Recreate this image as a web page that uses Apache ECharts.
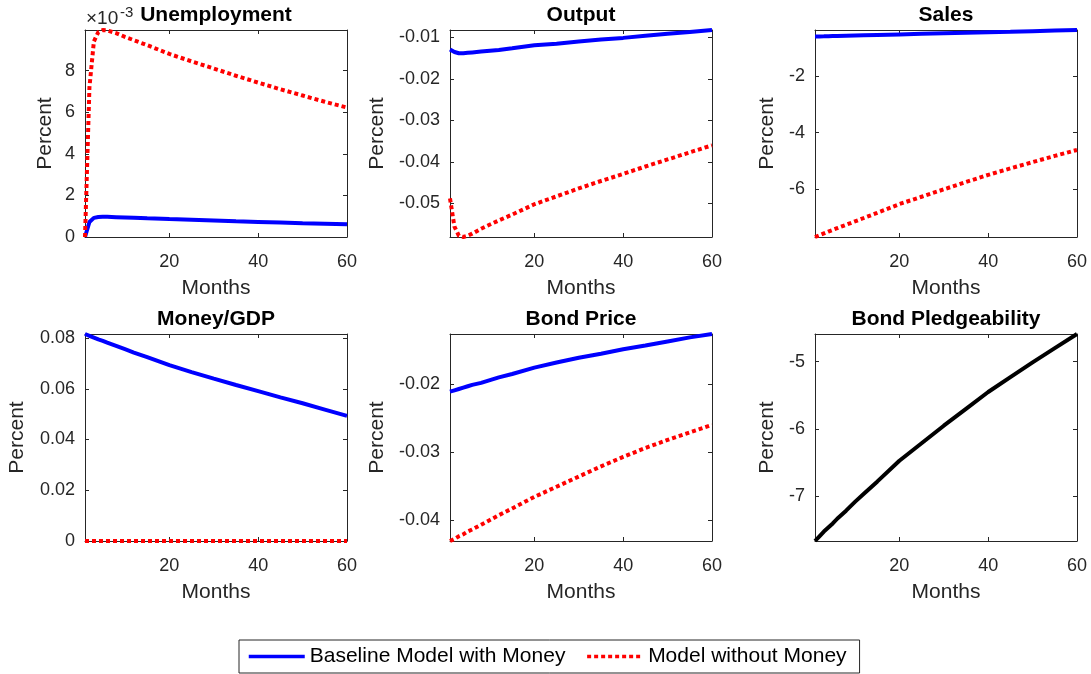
<!DOCTYPE html>
<html><head><meta charset="utf-8">
<script src="https://cdn.jsdelivr.net/npm/echarts@6/dist/echarts.min.js"></script>
<style>html,body{margin:0;padding:0;background:#fff}#c{width:1091px;height:674px}</style>
</head><body><div id="c"></div><script>
// ---------- data ----------
const months = [1,2,3,4,5,6,8,10,12,15,20,25,30,35,40,45,50,55,60];
const xTicks = [20,40,60];

// Unemployment (values in units of 10^-3)
const unempBase    = [0,0.72,0.92,0.96,0.97,0.97,0.955,0.94,0.925,0.90,0.86,0.825,0.79,0.755,0.725,0.695,0.665,0.64,0.615];
const unempNoMoney = [0,7.2,9.4,9.85,9.95,9.93,9.8,9.62,9.46,9.22,8.8,8.44,8.1,7.75,7.42,7.1,6.8,6.5,6.22];
const unempTicks   = [0,2,4,6,8];

// Output
const outputBase    = [-0.0129,-0.0135,-0.0138,-0.0138,-0.0137,-0.0136,-0.0134,-0.0132,-0.0130,-0.0126,-0.0119,-0.0115,-0.0110,-0.0105,-0.0101,-0.0096,-0.0091,-0.0087,-0.0082];
const outputNoMoney = [-0.0488,-0.0556,-0.0578,-0.0581,-0.0578,-0.0573,-0.0561,-0.0551,-0.0541,-0.0527,-0.0502,-0.0483,-0.0464,-0.0446,-0.0429,-0.0411,-0.0394,-0.0377,-0.0360];
const outputTicks   = [-0.05,-0.04,-0.03,-0.02,-0.01];

// Sales
const salesBase    = [-0.61,-0.607,-0.604,-0.60,-0.595,-0.591,-0.583,-0.575,-0.567,-0.555,-0.535,-0.515,-0.495,-0.476,-0.458,-0.44,-0.42,-0.40,-0.38];
const salesNoMoney = [-7.68,-7.62,-7.555,-7.49,-7.43,-7.37,-7.25,-7.13,-7.01,-6.83,-6.52,-6.26,-6.0,-5.74,-5.49,-5.26,-5.04,-4.82,-4.61];
const salesTicks   = [-6,-4,-2];

// Money/GDP
const moneyBase    = [0.0816,0.0809,0.0802,0.0795,0.0789,0.0782,0.0769,0.0756,0.0743,0.0725,0.0693,0.0666,0.0640,0.0615,0.0591,0.0566,0.0543,0.0518,0.0493];
const moneyNoMoney = [0,0,0,0,0,0,0,0,0,0,0,0,0,0,0,0,0,0,0];
const moneyTicks   = [0,0.02,0.04,0.06,0.08];

// Bond Price
const bondBase    = [-0.0211,-0.0209,-0.0207,-0.0205,-0.0203,-0.0201,-0.0198,-0.0194,-0.0190,-0.0185,-0.01755,-0.0168,-0.0161,-0.0155,-0.01484,-0.0143,-0.0137,-0.0131,-0.0126];
const bondNoMoney = [-0.0431,-0.0428,-0.0424,-0.0421,-0.0417,-0.0414,-0.0407,-0.0400,-0.0393,-0.0383,-0.0366,-0.0351,-0.0336,-0.0321,-0.0307,-0.0294,-0.0282,-0.0271,-0.0260];
const bondTicks   = [-0.04,-0.03,-0.02];

// Bond Pledgeability
const pledge      = [-7.66,-7.59,-7.52,-7.46,-7.40,-7.33,-7.21,-7.08,-6.96,-6.78,-6.47,-6.21,-5.95,-5.70,-5.45,-5.23,-5.01,-4.80,-4.59];
const pledgeTicks = [-7,-6,-5];

const nameBase = 'Baseline Model with Money';
const nameNo = 'Model without Money';

// ---------- layout ----------
const FONT = "'Liberation Sans', Arial, Helvetica, sans-serif";
const AX = '#262626';
const panels = [
  {title:'Unemployment', left:85, top:30, ticks:unempTicks, gap:29, series:[[nameBase,unempBase,'b'],[nameNo,unempNoMoney,'r']]},
  {title:'Output', left:450, top:30, ticks:outputTicks, gap:62, series:[[nameBase,outputBase,'b'],[nameNo,outputNoMoney,'r']]},
  {title:'Sales', left:815, top:30, ticks:salesTicks, gap:37, series:[[nameBase,salesBase,'b'],[nameNo,salesNoMoney,'r']]},
  {title:'Money/GDP', left:85, top:334, ticks:moneyTicks, gap:57, series:[[nameBase,moneyBase,'b'],[nameNo,moneyNoMoney,'r']]},
  {title:'Bond Price', left:450, top:334, ticks:bondTicks, gap:62, series:[[nameBase,bondBase,'b'],[nameNo,bondNoMoney,'r']]},
  {title:'Bond Pledgeability', left:815, top:334, ticks:pledgeTicks, gap:37, series:[['Bond Pledgeability',pledge,'k']]}
];
const W = 262, H = 207;

const grid = [], xAxis = [], yAxis = [], series = [], graphic = [];
const styles = {
  b:{color:'#0000ff', width:4, type:'solid', z:2},
  r:{color:'#ff0000', width:4, type:[4,3], z:3},
  k:{color:'#000000', width:4, type:'solid', z:2}
};

panels.forEach((p, i) => {
  grid.push({left:p.left, top:p.top, width:W, height:H, containLabel:false});
  let all = [];
  p.series.forEach(s => all = all.concat(s[1]));
  const ymin = Math.min(...all), ymax = Math.max(...all);
  const tickCommon = {show:true, inside:true, length:4, lineStyle:{color:AX, width:1}};
  xAxis.push({type:'value', gridIndex:i, min:1, max:60, position:'bottom',
    axisLine:{show:true, onZero:false, lineStyle:{color:AX, width:1}},
    axisTick:Object.assign({customValues:xTicks}, tickCommon),
    axisLabel:{customValues:xTicks, color:AX, fontSize:18, fontFamily:FONT, margin:16},
    splitLine:{show:false},
    name:'Months', nameLocation:'middle', nameGap:41,
    nameTextStyle:{color:AX, fontSize:21, fontFamily:FONT}
  });
  xAxis.push({type:'value', gridIndex:i, min:1, max:60, position:'top',
    axisLine:{show:true, onZero:false, lineStyle:{color:AX, width:1}},
    axisTick:Object.assign({customValues:xTicks}, tickCommon),
    axisLabel:{show:false}, splitLine:{show:false}
  });
  yAxis.push({type:'value', gridIndex:i, min:ymin, max:ymax, position:'left',
    axisLine:{show:true, onZero:false, lineStyle:{color:AX, width:1}},
    axisTick:Object.assign({customValues:p.ticks}, tickCommon),
    axisLabel:{customValues:p.ticks, color:AX, fontSize:18, fontFamily:FONT, margin:10},
    splitLine:{show:false},
    name:'Percent', nameLocation:'middle', nameGap:p.gap, nameRotate:90,
    nameTextStyle:{color:AX, fontSize:21, fontFamily:FONT}
  });
  yAxis.push({type:'value', gridIndex:i, min:ymin, max:ymax, position:'right',
    axisLine:{show:true, onZero:false, lineStyle:{color:AX, width:1}},
    axisTick:Object.assign({customValues:p.ticks}, tickCommon),
    axisLabel:{show:false}, splitLine:{show:false}
  });
  p.series.forEach(s => {
    const st = styles[s[2]];
    series.push({type:'line', name:s[0], xAxisIndex:2*i, yAxisIndex:2*i,
      data: months.map((m,k) => [m, s[1][k]]),
      symbol:'none', showSymbol:false, clip:false, smooth:false, z:st.z,
      lineStyle:{color:st.color, width:st.width, type:st.type, cap:'butt'},
      itemStyle:{color:st.color}, emphasis:{disabled:true}, animation:false
    });
  });
  graphic.push({type:'text', x:p.left + W/2, y:p.top - 15,
    style:{text:p.title, font:"bold 21px " + FONT, fill:'#000', textAlign:'center', textVerticalAlign:'middle'}});
});

// exponent label of the Unemployment panel
graphic.push({type:'text', x:86, y:28, style:{text:'\u00d710', font:"19px " + FONT, fill:AX, textAlign:'left', textVerticalAlign:'bottom'}});
graphic.push({type:'text', x:120, y:20, style:{text:'-3', font:"15px " + FONT, fill:AX, textAlign:'left', textVerticalAlign:'bottom'}});

const chart = echarts.init(document.getElementById('c'), null, {renderer:'canvas'});
chart.setOption({
  animation:false,
  backgroundColor:'#fff',
  grid, xAxis, yAxis, series, graphic,
  legend:{data:[nameBase, nameNo], left:239, top:640, orient:'horizontal',
    itemWidth:56, itemHeight:14, itemGap:20, padding:[6,13,6,8],
    borderColor:AX, borderWidth:1, backgroundColor:'#fff',
    itemStyle:{opacity:0, borderWidth:0},
    lineStyle:{opacity:1, width:3.5},
    textStyle:{fontSize:21, color:'#000', fontFamily:FONT},
    selectedMode:false
  }
});
</script></body></html>
